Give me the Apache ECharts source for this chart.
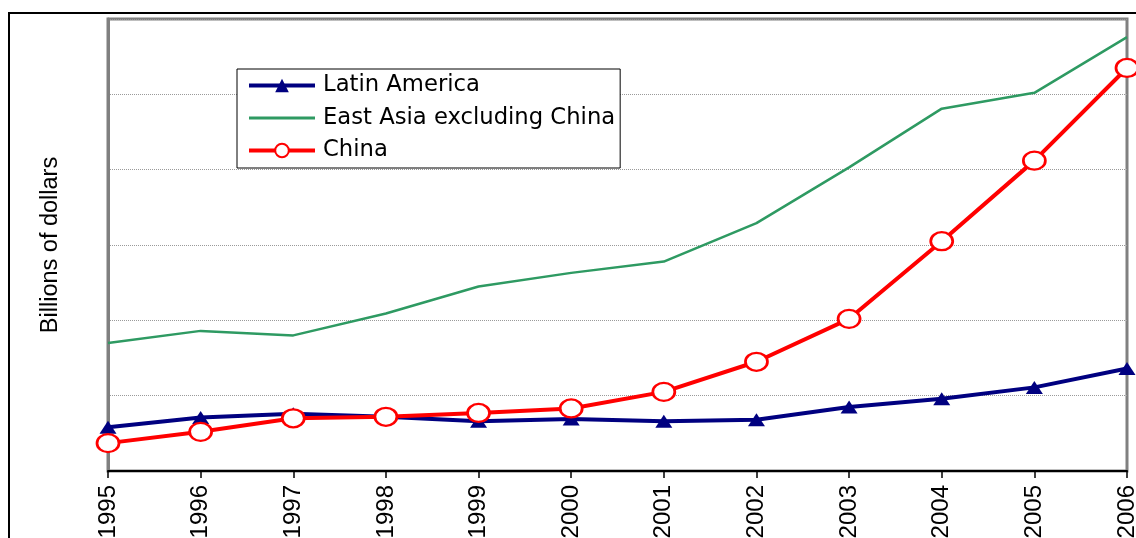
<!DOCTYPE html>
<html>
<head>
<meta charset="utf-8">
<script src="https://cdn.jsdelivr.net/npm/echarts@6/dist/echarts.min.js"></script>
<style>
  html, body { margin: 0; padding: 0; background: #fff; }
  #chart { width: 1136px; height: 538px; }
</style>
</head>
<body>
<div id="chart"></div>
<script>
// years on the x axis
const years = ['1995', '1996', '1997', '1998', '1999', '2000', '2001', '2002', '2003', '2004', '2005', '2006'];

// billions of dollars
const latinAmerica = [5.8, 7.1, 7.6, 7.2, 6.6, 6.9, 6.6, 6.8, 8.5, 9.6, 11.1, 13.6];
const eastAsiaExChina = [17.0, 18.6, 18.0, 20.9, 24.5, 26.3, 27.8, 32.9, 40.3, 48.1, 50.2, 57.6];
const china = [3.7, 5.2, 7.0, 7.2, 7.7, 8.3, 10.5, 14.5, 20.2, 30.5, 41.2, 53.5];

const chart = echarts.init(document.getElementById('chart'));

const option = {
  animation: false,
  backgroundColor: '#fff',
  graphic: [
    {
      type: 'rect',
      shape: { x: 9, y: 13, width: 1200, height: 600 },
      style: { fill: 'none', stroke: '#000', lineWidth: 2 },
      z: -1
    }
  ],
  grid: {
    left: 108,
    right: 9,
    top: 19,
    bottom: 67,
    outerBoundsMode: 'none',
    containLabel: false,
    show: true,
    borderColor: '#808080',
    borderWidth: 3,
    backgroundColor: 'transparent'
  },
  legend: {
    orient: 'vertical',
    left: 237,
    top: 69,
    padding: [5, 5, 6, 10],
    itemWidth: 66,
    itemHeight: 17,
    itemGap: 9.5,
    borderColor: '#000',
    borderWidth: 1,
    backgroundColor: '#fff',
    textStyle: {
      fontFamily: 'DejaVu Sans',
      fontSize: 22.7,
      lineHeight: 22,
      color: '#000',
      padding: [0, 0, 0, 3]
    },
    data: [
      { name: 'Latin America', lineStyle: { width: 4 } },
      { name: 'East Asia excluding China', lineStyle: { width: 3 }, itemStyle: { opacity: 0 } },
      { name: 'China', lineStyle: { width: 4 } }
    ]
  },
  xAxis: {
    type: 'category',
    data: years,
    boundaryGap: false,
    axisLine: { lineStyle: { color: '#000', width: 2 } },
    axisTick: { show: true, inside: false, length: 7, lineStyle: { color: '#000', width: 1.5 } },
    axisLabel: {
      rotate: 90,
      margin: 14,
      fontFamily: 'Liberation Sans',
      fontSize: 24,
      color: '#000',
      interval: 0
    },
    splitLine: { show: false }
  },
  yAxis: {
    type: 'value',
    min: 0,
    max: 60,
    interval: 10,
    name: 'Billions of dollars',
    nameLocation: 'middle',
    nameRotate: 90,
    nameGap: 45,
    nameTextStyle: { fontFamily: 'Liberation Sans', fontSize: 23.5, color: '#000' },
    axisLine: { show: true, lineStyle: { color: '#808080', width: 3 } },
    axisTick: { show: false },
    axisLabel: { show: false },
    splitLine: { lineStyle: { color: '#9a9a9a', type: 'dotted', width: 1 } }
  },
  series: [
    {
      name: 'Latin America',
      type: 'line',
      data: latinAmerica,
      symbol: 'triangle',
      symbolSize: [17, 13],
      showAllSymbol: true,
      lineStyle: { color: '#000080', width: 4 },
      itemStyle: { color: '#000080', borderWidth: 0 },
      z: 3
    },
    {
      name: 'East Asia excluding China',
      type: 'line',
      data: eastAsiaExChina,
      symbol: 'none',
      lineStyle: { color: '#2E9A62', width: 2.5 },
      itemStyle: { color: '#2E9A62' },
      z: 2
    },
    {
      name: 'China',
      type: 'line',
      data: china,
      symbol: 'circle',
      symbolSize: [22, 18],
      showAllSymbol: true,
      lineStyle: { color: '#FF0000', width: 4 },
      itemStyle: { color: '#fff', borderColor: '#FF0000', borderWidth: 2.5 },
      z: 4
    }
  ]
};

chart.setOption(option);
</script>
</body>
</html>
